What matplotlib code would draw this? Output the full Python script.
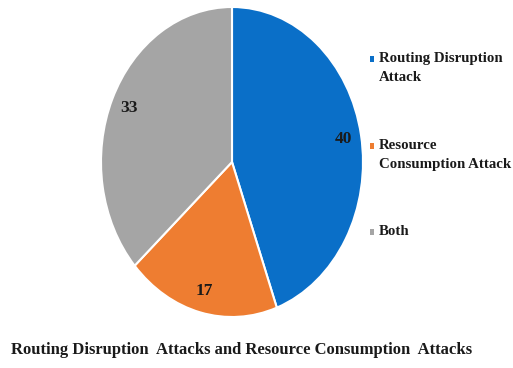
import matplotlib
matplotlib.use("Agg")
import matplotlib.pyplot as plt
from matplotlib.patches import Rectangle

categories = ["Routing Disruption\nAttack", "Resource\nConsumption Attack", "Both"]
values = [40, 17, 33]
colors = ["#0A6FC8", "#EE7D31", "#A5A5A5"]
title = "Routing Disruption  Attacks and Resource Consumption  Attacks"

W, H = 513, 368
fig = plt.figure(figsize=(W / 100, H / 100), dpi=100)
fig.patch.set_facecolor("white")

# pie axes (ellipse as in reference)
cx, cy, rx, ry = 232, 162, 131, 155
ax = fig.add_axes([(cx - rx) / W, 1 - (cy + ry) / H, 2 * rx / W, 2 * ry / H])
total = sum(values)
wedges, texts, autotexts = ax.pie(
    values, colors=colors, startangle=90, counterclock=False,
    wedgeprops=dict(edgecolor="white", linewidth=1.5),
    autopct=lambda p: f"{round(p * total / 100):d}", pctdistance=0.86,
    textprops=dict(family="Liberation Serif", fontweight="bold", fontsize=12.5, color="#1a1a1a"),
)
ax.set_aspect("auto")
ax.set_xlim(-1, 1)
ax.set_ylim(-1, 1)
ax.axis("off")

# legend, drawn manually
leg_y = [59, 146, 232]
for lab, col, y in zip(categories, colors, leg_y):
    fig.patches.append(Rectangle((370 / W, 1 - (y + 3) / H), 4 / W, 6 / H,
                                 transform=fig.transFigure, facecolor=col, edgecolor="none"))
    fig.text(379 / W, 1 - (y - 7) / H, lab, ha="left", va="top",
             family="Liberation Serif", fontweight="bold", fontsize=10.7,
             color="#1a1a1a", linespacing=1.6)

fig.text(242 / W, 1 - 350 / H, title, ha="center", va="center",
         family="Liberation Serif", fontweight="bold", fontsize=12.0, color="#1a1a1a")

fig.savefig("out.png", dpi=100, facecolor="white")
